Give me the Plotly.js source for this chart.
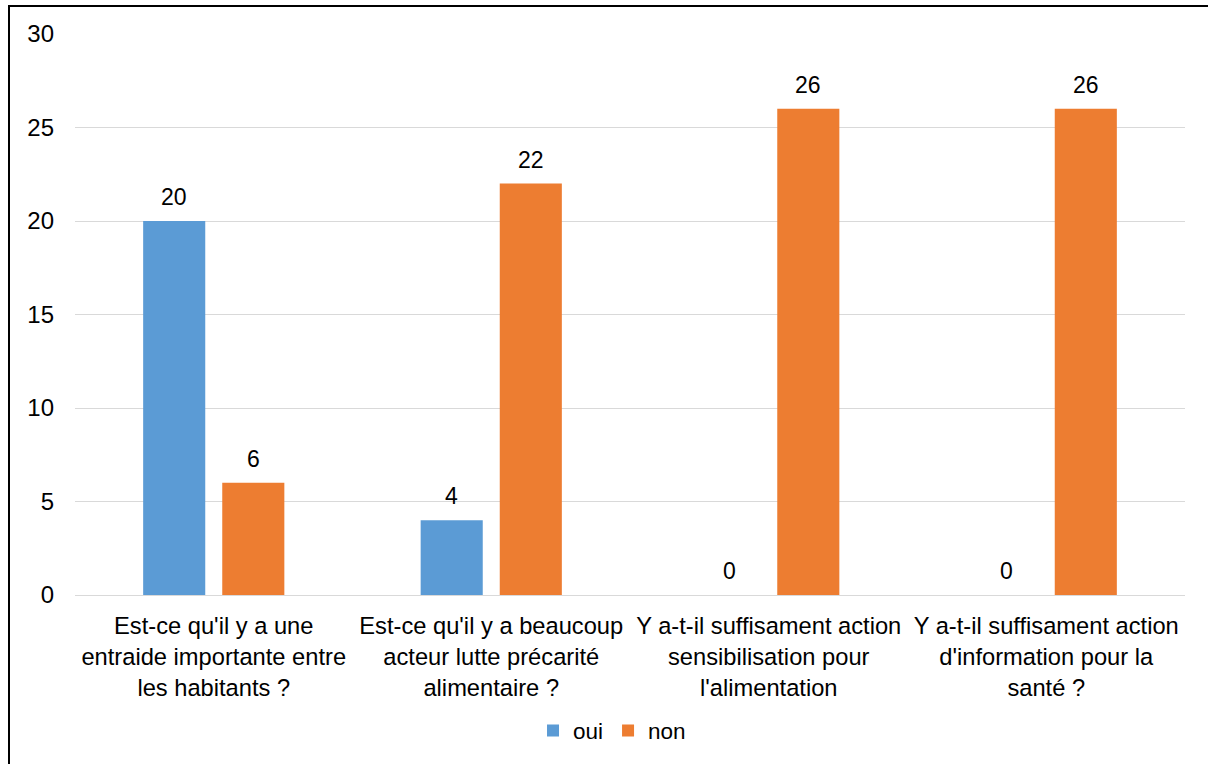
<!DOCTYPE html>
<html><head><meta charset="utf-8">
<script src="https://cdn.plot.ly/plotly-3.0.1.min.js"></script>
<style>
html,body{margin:0;padding:0;background:#fff;}
#wrap{position:relative;width:1208px;height:764px;overflow:hidden;}
#chart{width:1208px;height:764px;}
#bl{position:absolute;left:8px;top:5px;width:2px;height:760px;background:#000;}
#bt{position:absolute;left:8px;top:5px;width:1200px;height:2px;background:#000;}
</style></head>
<body><div id="wrap"><div id="chart"></div><div id="bl"></div><div id="bt"></div></div>
<script>
const categories = [
  "Est-ce qu'il y a une<br>entraide importante entre<br>les habitants ?",
  "Est-ce qu'il y a beaucoup<br>acteur lutte précarité<br>alimentaire ?",
  "Y a-t-il suffisament action<br>sensibilisation pour<br>l'alimentation",
  "Y a-t-il suffisament action<br>d'information pour la<br>santé ?"
];
const ouiValues = [20, 4, 0, 0];
const nonValues = [6, 22, 26, 26];
const yTicks = [0, 5, 10, 15, 20, 25, 30];

const fam = "Liberation Sans, Arial, sans-serif";
const font = {family: fam, size: 23, color: "#000"};
const series = [
  {name: "oui", values: ouiValues, color: "#5b9bd5", shift: -39.5},
  {name: "non", values: nonValues, color: "#ed7d31", shift: 39.5}
];
const traces = series.map(s => ({
  type: "bar", name: s.name, x: categories, y: s.values,
  marker: {color: s.color}, hoverinfo: "none"
}));
const annotations = [];
series.forEach(s => s.values.forEach((v, j) => {
  annotations.push({x: categories[j], y: v, xref: "x", yref: "y", text: String(v),
    showarrow: false, xshift: s.shift, yanchor: "bottom", yshift: 9, font: font});
}));
const layout = {
  width: 1208, height: 764,
  margin: {l: 75, r: 23, t: 34, b: 167},
  paper_bgcolor: "#fff", plot_bgcolor: "#fff",
  font: font,
  barmode: "group", bargap: 0.43, bargroupgap: 0.215,
  xaxis: {type: "category", showgrid: false, showline: true, linecolor: "#d9d9d9", linewidth: 1,
          ticks: "", tickfont: {family: fam, size: 23.7, color: "#000"}, automargin: false, ticklabelstandoff: 10},
  yaxis: {range: [0, 30], tickvals: yTicks, showgrid: true, gridcolor: "#d9d9d9", gridwidth: 1,
          zeroline: false, showline: false, ticks: "", tickfont: {family: fam, size: 24, color: "#000"},
          ticklabelstandoff: 20, automargin: false},
  showlegend: true,
  legend: {orientation: "h", x: 0.4838, xanchor: "center", y: -0.242, yanchor: "middle",
           font: {family: fam, size: 22.5, color: "#000"}, itemwidth: 30, traceorder: "normal"},
  annotations: annotations
};
Plotly.newPlot("chart", traces, layout, {displayModeBar: false, staticPlot: true});
</script></body></html>
